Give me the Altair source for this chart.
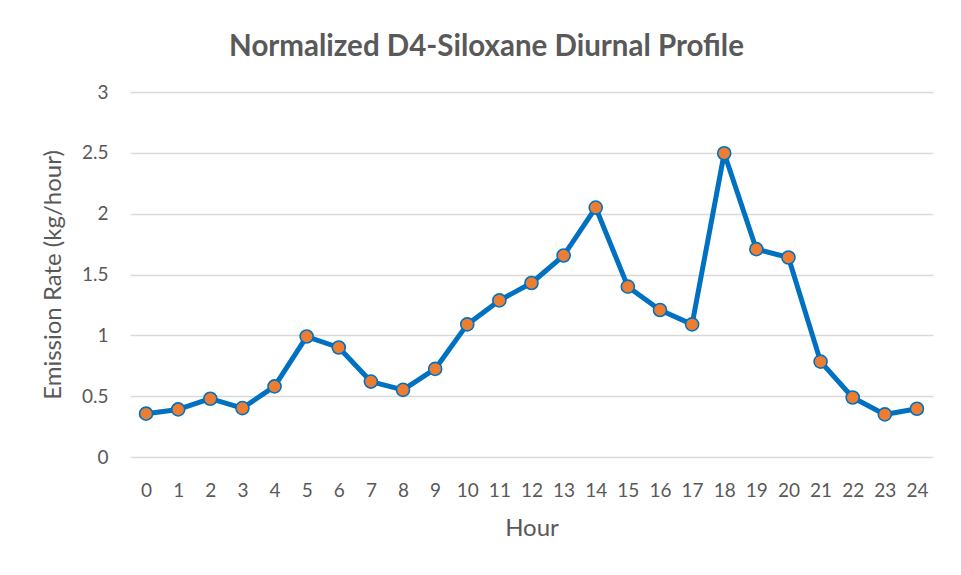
import altair as alt
import pandas as pd

hours = list(range(25))
emission = [0.356, 0.391, 0.479, 0.402, 0.58, 0.99, 0.90, 0.62, 0.552, 0.724,
            1.09, 1.287, 1.43, 1.656, 2.05, 1.40, 1.208, 1.09, 2.497, 1.708,
            1.64, 0.784, 0.489, 0.35, 0.397]
y_ticks = [0, 0.5, 1, 1.5, 2, 2.5, 3]

df = pd.DataFrame({"Hour": hours, "Emission": emission})

FONT = "Lato"
GREY = "#595959"

x_enc = alt.X("Hour:O", title="Hour",
              scale=alt.Scale(type="point", padding=0.5),
              axis=alt.Axis(labelAngle=0, labelFontSize=19, labelColor=GREY, labelFont=FONT,
                            titleFontSize=24, titleColor=GREY, titleFont=FONT, titleFontWeight="normal",
                            titlePadding=16, labelPadding=24, ticks=False, domain=False, grid=False))
y_enc = alt.Y("Emission:Q", title="Emission Rate (kg/hour)",
              scale=alt.Scale(domain=[0, 3], nice=False),
              axis=alt.Axis(values=y_ticks, format="~g", labelFontSize=19, labelColor=GREY,
                            labelFont=FONT, titleFontSize=24, titleColor=GREY, titleFont=FONT,
                            titleFontWeight="normal", titlePadding=16, labelPadding=22,
                            ticks=False, domain=False, gridColor="#d9d9d9", gridWidth=1.5))

base = alt.Chart(df)
line = base.mark_line(color="#0070C0", strokeWidth=5, strokeJoin="round").encode(x=x_enc, y=y_enc)
pts = base.mark_point(filled=True, fill="#ED7D31", stroke="#0070C0", strokeWidth=1.6,
                      size=170, opacity=1, shape="circle").encode(x="Hour:O", y="Emission:Q")

chart = (line + pts).properties(
    width=803, height=365,
    background="white",
    autosize=alt.AutoSizeParams(type="none"),
    padding={"left": 122, "top": 84, "right": 20, "bottom": 100},
    title=alt.TitleParams("Normalized D4-Siloxane Diurnal Profile", font=FONT, fontSize=29.5,
                          fontWeight="bold", color=GREY, anchor="middle", dx=-45, offset=21),
).configure_view(stroke=None)

chart.save("out.html", embed_options={"renderer": "svg", "actions": False})
